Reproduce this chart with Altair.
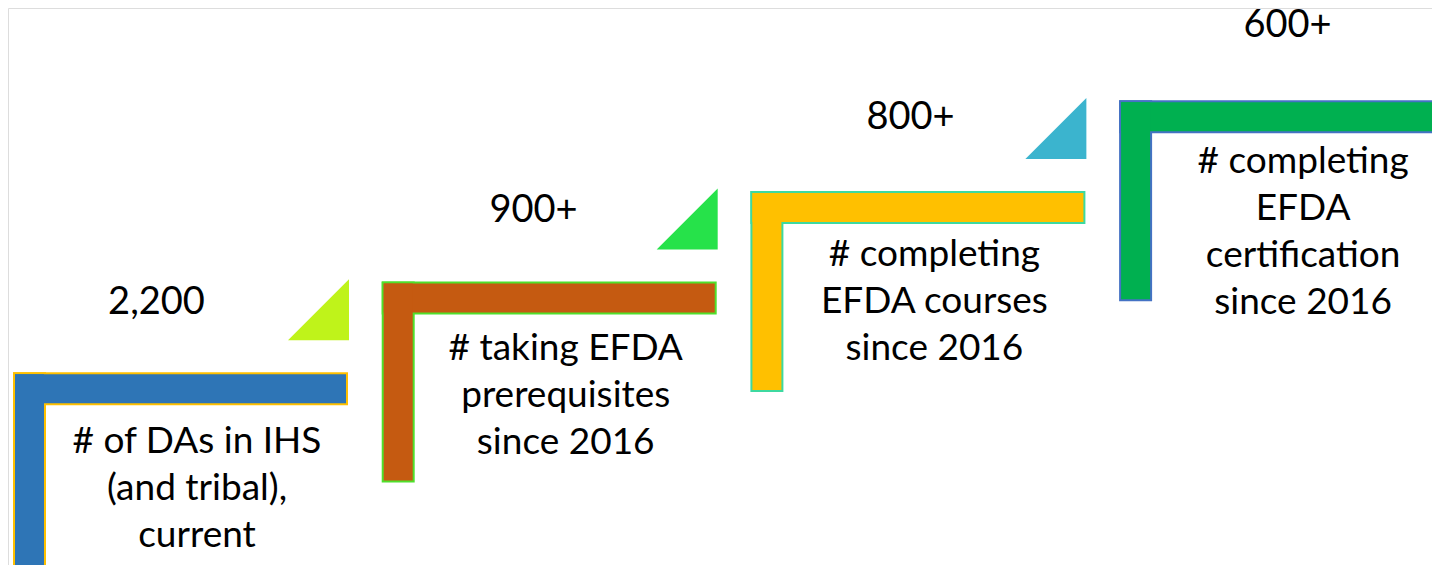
import altair as alt
import pandas as pd

# ---- data ----
values = ["2,200", "900+", "800+", "600+"]
labels = [
    "# of DAs in IHS\n(and tribal),\ncurrent",
    "# taking EFDA\nprerequisites\nsince 2016",
    "# completing\nEFDA courses\nsince 2016",
    "# completing\nEFDA\ncertification\nsince 2016",
]
fill_colors = ["#2E75B6", "#C55A11", "#FFC000", "#00B050"]
edge_colors = ["#FFC000", "#4FE02C", "#3DD9A0", "#4472C4"]
tri_colors = ["#BFF31A", "#26E24A", "#3BB4CE"]

# ---- layout constants (pixels of the 1440x573 picture) ----
X0, DX = 13.0, 368.7      # left edge of first step, shift per step
Y0, DY = 372.3, 90.7      # top edge of first step, rise per step
W, H, T, S = 335.0, 201.0, 33.0, 2.0   # step width, height, bar thickness, outline
TRI = 61.0
NUM_X0, NUM_DX = 156.5, 377.0
NUM_Y0, NUM_DY = 314.0, 92.5
LAB_Y0, LAB_DY = 453.0, 93.5
FONT = "Lato"

rows = []
for k in range(len(values)):
    left = X0 + k * DX
    top = Y0 - k * DY
    rows.append(dict(
        k=k, value=values[k], label=labels[k],
        fill=fill_colors[k], edge=edge_colors[k],
        tri=tri_colors[k] if k < len(tri_colors) else None,
        hx=left, hx2=left + W, hy=top, hy2=top + T,
        vx=left, vx2=left + T, vy=top, vy2=top + H,
        ihx=left + S, ihx2=left + W - S, ihy=top + S, ihy2=top + T - S,
        ivx=left + S, ivx2=left + T - S, ivy=top + S, ivy2=top + H - S,
        tx=left + W + 1 - TRI / 2, ty=top - 32 - TRI / 2,
        nx=NUM_X0 + k * NUM_DX, ny=NUM_Y0 - k * NUM_DY,
        lx=left + T + (W - T) / 2, ly=LAB_Y0 - k * LAB_DY,
    ))
df = pd.DataFrame(rows)

xs = alt.Scale(domain=[8, 1432], nice=False, zero=False)
ys = alt.Scale(domain=[8, 565], nice=False, zero=False, reverse=True)

base = alt.Chart(df)


def rect(x, x2, y, y2, col):
    return base.mark_rect(clip=True, strokeWidth=0).encode(
        x=alt.X(f"{x}:Q", scale=xs, axis=None),
        x2=f"{x2}:Q",
        y=alt.Y(f"{y}:Q", scale=ys, axis=None),
        y2=f"{y2}:Q",
        fill=alt.Fill(f"{col}:N", scale=None, legend=None),
    )


edge_h = rect("hx", "hx2", "hy", "hy2", "edge")
edge_v = rect("vx", "vx2", "vy", "vy2", "edge")
fill_h = rect("ihx", "ihx2", "ihy", "ihy2", "fill")
fill_v = rect("ivx", "ivx2", "ivy", "ivy2", "fill")

tris = base.transform_filter("datum.k < 3").mark_point(
    shape="M -1 1 L 1 1 L 1 -1 Z", filled=True, size=TRI * TRI,
    opacity=1, strokeWidth=0, clip=True,
).encode(
    x=alt.X("tx:Q", scale=xs, axis=None),
    y=alt.Y("ty:Q", scale=ys, axis=None),
    fill=alt.Fill("tri:N", scale=None, legend=None),
)

nums = base.mark_text(
    font=FONT, fontSize=38, color="#000000", align="center", baseline="alphabetic",
).encode(
    x=alt.X("nx:Q", scale=xs, axis=None),
    y=alt.Y("ny:Q", scale=ys, axis=None),
    text="value:N",
)

labs = base.mark_text(
    font=FONT, fontSize=37, color="#000000", align="center", baseline="alphabetic",
    lineBreak="\n", lineHeight=47,
).encode(
    x=alt.X("lx:Q", scale=xs, axis=None),
    y=alt.Y("ly:Q", scale=ys, axis=None),
    text="label:N",
)

chart = alt.layer(edge_h, edge_v, fill_h, fill_v, tris, nums, labs).properties(
    width=1424, height=557, padding=0,
    autosize=alt.AutoSizeParams(type="none"),
).configure_view(stroke=None).configure(background="#FFFFFF")

chart.save("out.html", embed_options={"renderer": "svg", "actions": False})
